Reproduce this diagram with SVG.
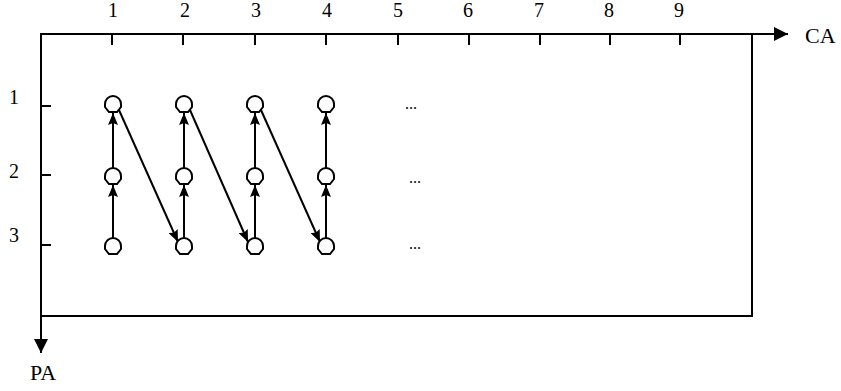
<svg xmlns="http://www.w3.org/2000/svg" width="841" height="391" viewBox="0 0 841 391">
  <defs>
    <marker id="ah" viewBox="0 0 12 10" refX="12" refY="5" markerWidth="12" markerHeight="10" markerUnits="userSpaceOnUse" orient="auto">
      <path d="M0,0 L12,5 L0,10 L2,5 Z" fill="#000"/>
    </marker>
    <marker id="axh" viewBox="0 0 14 14" refX="14" refY="7" markerWidth="14" markerHeight="14" markerUnits="userSpaceOnUse" orient="auto">
      <path d="M0,0 L14,7 L0,14 Z" fill="#000"/>
    </marker>
    <path id="nd" d="M-8,0 A8,8 0 0 1 8,0 V3 L4,8 H-4 L-8,3 Z"/>
  </defs>
  <style>
    text { font-family: "Liberation Serif", "Times New Roman", serif; font-size: 20px; fill: #000; }
    .big { font-size: 22px; }
    .ax { stroke: #000; stroke-width: 2; fill: none; }
    .tk { stroke: #000; stroke-width: 2; }
    .node use { fill: #fff; stroke: #000; stroke-width: 2; }
    .edge { stroke: #000; stroke-width: 2; fill: none; marker-end: url(#ah); }
  </style>

  <!-- frame and axes -->
  <g id="axes">
    <path class="ax" d="M41,316 V34 H752 V316 H41"/>
    <line class="ax" x1="752" y1="34" x2="788" y2="34" marker-end="url(#axh)"/>
    <line class="ax" x1="41" y1="316" x2="41" y2="353" marker-end="url(#axh)"/>
    <text class="big" x="805" y="43">CA</text>
    <text class="big" x="30" y="380">PA</text>
  </g>

  <!-- column ticks and labels -->
  <g id="col-ticks">
    <line class="tk" x1="112" y1="34" x2="112" y2="45"/>
    <line class="tk" x1="183" y1="34" x2="183" y2="45"/>
    <line class="tk" x1="255" y1="34" x2="255" y2="45"/>
    <line class="tk" x1="326" y1="34" x2="326" y2="45"/>
    <line class="tk" x1="398" y1="34" x2="398" y2="45"/>
    <line class="tk" x1="469" y1="34" x2="469" y2="45"/>
    <line class="tk" x1="540" y1="34" x2="540" y2="45"/>
    <line class="tk" x1="610" y1="34" x2="610" y2="45"/>
    <line class="tk" x1="680" y1="34" x2="680" y2="45"/>
    <g text-anchor="middle">
      <text x="113" y="17">1</text>
      <text x="185" y="17">2</text>
      <text x="256" y="17">3</text>
      <text x="327" y="17">4</text>
      <text x="398" y="17">5</text>
      <text x="468" y="17">6</text>
      <text x="539" y="17">7</text>
      <text x="609" y="17">8</text>
      <text x="679" y="17">9</text>
    </g>
  </g>

  <!-- row ticks and labels -->
  <g id="row-ticks">
    <line class="tk" x1="41" y1="106" x2="51" y2="106"/>
    <line class="tk" x1="41" y1="175" x2="51" y2="175"/>
    <line class="tk" x1="41" y1="245" x2="51" y2="245"/>
    <g text-anchor="middle">
      <text x="14" y="104">1</text>
      <text x="14" y="178">2</text>
      <text x="14" y="242">3</text>
    </g>
  </g>

  <!-- connectors -->
  <g id="connectors">
    <line class="edge" x1="113" y1="238" x2="113" y2="185"/>
    <line class="edge" x1="113" y1="168" x2="113" y2="113"/>
    <line class="edge" x1="119" y1="110" x2="178" y2="242"/>
    <line class="edge" x1="184" y1="238" x2="184" y2="185"/>
    <line class="edge" x1="184" y1="168" x2="184" y2="113"/>
    <line class="edge" x1="190" y1="110" x2="248" y2="242"/>
    <line class="edge" x1="255" y1="238" x2="255" y2="185"/>
    <line class="edge" x1="255" y1="168" x2="255" y2="113"/>
    <line class="edge" x1="261" y1="110" x2="320" y2="242"/>
    <line class="edge" x1="326" y1="238" x2="326" y2="185"/>
    <line class="edge" x1="326" y1="168" x2="326" y2="113"/>
  </g>

  <!-- nodes -->
  <g id="n11" class="node"><use href="#nd" x="113" y="104"/></g>
  <g id="n21" class="node"><use href="#nd" x="113" y="176"/></g>
  <g id="n31" class="node"><use href="#nd" x="113" y="246"/></g>
  <g id="n12" class="node"><use href="#nd" x="184" y="104"/></g>
  <g id="n22" class="node"><use href="#nd" x="184" y="176"/></g>
  <g id="n32" class="node"><use href="#nd" x="184" y="246"/></g>
  <g id="n13" class="node"><use href="#nd" x="255" y="104"/></g>
  <g id="n23" class="node"><use href="#nd" x="255" y="176"/></g>
  <g id="n33" class="node"><use href="#nd" x="255" y="246"/></g>
  <g id="n14" class="node"><use href="#nd" x="326" y="104"/></g>
  <g id="n24" class="node"><use href="#nd" x="326" y="176"/></g>
  <g id="n34" class="node"><use href="#nd" x="326" y="246"/></g>

  <!-- continuation marks -->
  <g id="more">
    <text x="405" y="109" style="font-size:16px">...</text>
    <text x="409" y="183" style="font-size:16px">...</text>
    <text x="409" y="249" style="font-size:16px">...</text>
  </g>
</svg>
